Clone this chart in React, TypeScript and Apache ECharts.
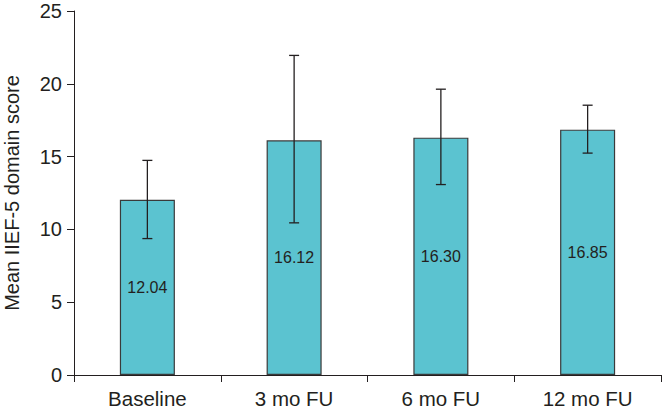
import React, { useEffect, useRef } from "react";
import * as echarts from "echarts";

const categories = ["Baseline", "3 mo FU", "6 mo FU", "12 mo FU"];
const means = [12.04, 16.12, 16.3, 16.85];
const errHigh = [14.74, 21.95, 19.63, 18.53];
const errLow = [9.37, 10.45, 13.08, 15.24];
const yTicks = [0, 5, 10, 15, 20, 25];

export default function App() {
  const ref = useRef<HTMLDivElement>(null);
  useEffect(() => {
    if (!ref.current) return;
    const chart = echarts.init(ref.current, null, { renderer: "svg" });
    const font = "'Liberation Sans', Arial, sans-serif";
    const textColor = "#231f20";
    chart.setOption({
      animation: false,
      grid: { left: 74, right: 3, top: 11, bottom: 34, containLabel: false, outerBoundsMode: "none" },
      xAxis: {
        type: "category",
        data: categories,
        boundaryGap: true,
        axisLine: { lineStyle: { color: "#231f20", width: 1 } },
        axisTick: { show: true, alignWithLabel: false, length: 7, lineStyle: { color: "#231f20" } },
        axisLabel: { color: textColor, fontSize: 20.5, fontFamily: font, margin: 13 },
      },
      yAxis: {
        type: "value",
        min: yTicks[0],
        max: yTicks[yTicks.length - 1],
        interval: 5,
        name: "Mean IIEF-5 domain score",
        nameLocation: "middle",
        nameRotate: 90,
        nameGap: 52,
        nameMoveOverlap: false,
        nameTextStyle: { color: textColor, fontSize: 20, fontFamily: font },
        axisLine: { show: true, lineStyle: { color: "#231f20", width: 1 } },
        axisTick: { show: true, length: 7, lineStyle: { color: "#231f20" } },
        axisLabel: { color: textColor, fontSize: 20, fontFamily: font, margin: 12 },
        splitLine: { show: false },
      },
      series: [
        {
          type: "bar",
          data: means,
          barWidth: "37.5%",
          itemStyle: { color: "#5bc3d0", borderColor: "#3a3a3a", borderWidth: 1.2 },
          label: {
            show: true,
            position: "inside",
            formatter: (p: any) => p.value.toFixed(2),
            color: textColor,
            fontSize: 16,
            fontFamily: font,
          },
          z: 2,
        },
        {
          type: "custom",
          data: categories.map((_, i) => [i, errLow[i], errHigh[i]]),
          z: 5,
          renderItem: (params: any, api: any) => {
            const x = api.value(0);
            const lo = api.coord([x, api.value(1)]);
            const hi = api.coord([x, api.value(2)]);
            const half = 5;
            const style = { stroke: "#231f20", lineWidth: 1.3 };
            return {
              type: "group",
              children: [
                { type: "line", shape: { x1: hi[0], y1: hi[1], x2: lo[0], y2: lo[1] }, style },
                { type: "line", shape: { x1: hi[0] - half, y1: hi[1], x2: hi[0] + half, y2: hi[1] }, style },
                { type: "line", shape: { x1: lo[0] - half, y1: lo[1], x2: lo[0] + half, y2: lo[1] }, style },
              ],
            };
          },
        },
      ],
    });
    return () => chart.dispose();
  }, []);
  return <div ref={ref} style={{ width: 664, height: 409, position: "absolute", left: 0, top: 0 }} />;
}
